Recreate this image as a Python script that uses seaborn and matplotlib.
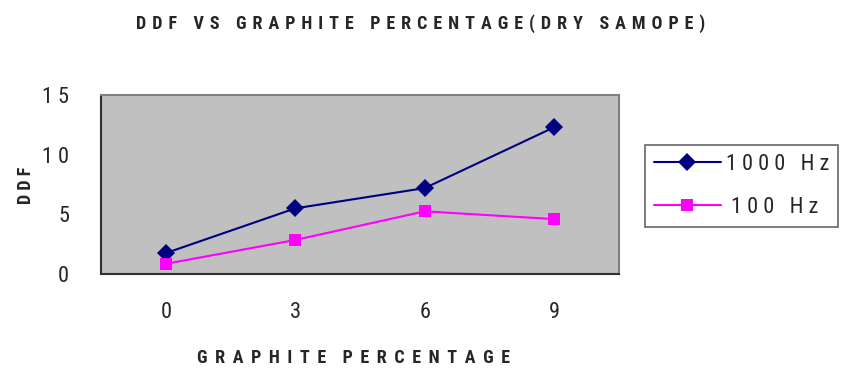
import matplotlib
matplotlib.use("Agg")
import matplotlib.pyplot as plt
import seaborn as sns
import pandas as pd

categories = ["0", "3", "6", "9"]
ddf_1000hz = [1.75, 5.5, 7.2, 12.3]
ddf_100hz = [0.85, 2.85, 5.25, 4.6]
y_ticks = [0, 5, 10, 15]


def spaced(s, gap=" "):
    return gap.join(s)


def tracked(s, gap=" \u200a", word_gap="    "):
    """Letter-spaced caption: wide tracking between letters, more between words."""
    return word_gap.join(gap.join(word) for word in s.split(" "))


sns.set_style("white")
plt.rcParams["font.family"] = ["Roboto Condensed", "Liberation Sans", "DejaVu Sans"]

df = pd.DataFrame({
    "pos": list(range(len(categories))) * 2,
    "DDF": ddf_1000hz + ddf_100hz,
    "series": ["1000 Hz"] * len(categories) + ["100 Hz"] * len(categories),
})

fig = plt.figure(figsize=(8.42, 3.69), dpi=100)
ax = fig.add_axes([101 / 842, 1 - 274 / 369, 518 / 842, 179 / 369])
ax.set_facecolor("#C0C0C0")

sns.lineplot(data=df, x="pos", y="DDF", hue="series", style="series",
             palette={"1000 Hz": "#000080", "100 Hz": "#FF00FF"},
             markers={"1000 Hz": "D", "100 Hz": "s"}, dashes=False,
             markersize=9, linewidth=1.5, markeredgewidth=0, ax=ax, legend=False)

ax.set_xlim(-0.5, len(categories) - 0.5)
ax.set_ylim(0, 15)
ax.set_xticks([i - 0.5 for i in range(len(categories) + 1)])
ax.set_xticklabels([])
ax.set_xticks(range(len(categories)), minor=True)
ax.set_xticklabels(categories, minor=True, fontsize=16)
ax.tick_params(axis="x", which="minor", length=0, pad=20)
ax.tick_params(axis="x", which="major", length=8, width=1, color="#404040", direction="out")
ax.set_yticks(y_ticks)
ax.set_yticklabels([spaced(str(v)) for v in y_ticks], fontsize=16)
ax.tick_params(axis="y", length=9, width=1, color="#404040", direction="out", pad=14)

for side in ["top", "right"]:
    ax.spines[side].set_color("#808080")
    ax.spines[side].set_linewidth(1.5)
for side in ["left", "bottom"]:
    ax.spines[side].set_color("#303030")
    ax.spines[side].set_linewidth(1.5)

ax.set_xlabel(tracked("GRAPHITE PERCENTAGE", gap=" \u2009"), fontsize=13, fontweight="bold")
ax.xaxis.set_label_coords(0.488, -0.419)
ax.set_ylabel(spaced("DDF"), fontsize=13, fontweight="bold")
ax.yaxis.set_label_coords(-0.128, 0.497)
fig.text(0.5, 1 - 29 / 369, tracked("DDF VS GRAPHITE PERCENTAGE(DRY SAMOPE)"),
         ha="center", va="baseline", fontsize=13, fontweight="bold")

handles = [
    plt.Line2D([], [], color="#000080", marker="D", markersize=9, linewidth=1.5, markeredgewidth=0),
    plt.Line2D([], [], color="#FF00FF", marker="s", markersize=9, linewidth=1.5, markeredgewidth=0),
]
leg = fig.legend(handles, [spaced("1000 Hz"), " " + spaced("100 Hz")],
                 loc="upper left", bbox_to_anchor=(645 / 842, 1 - 145 / 369),
                 borderaxespad=0, frameon=True, fancybox=False, fontsize=16,
                 handlelength=3.0, borderpad=0.4, labelspacing=1.0, handletextpad=0.25)
leg.get_frame().set_edgecolor("#404040")
leg.get_frame().set_linewidth(1.2)

fig.savefig("out.png", dpi=100)
